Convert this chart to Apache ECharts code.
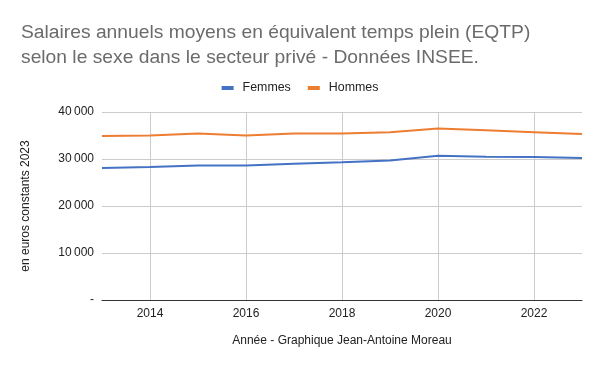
<!DOCTYPE html>
<html><head><meta charset="utf-8">
<script src="https://cdn.jsdelivr.net/npm/echarts@6/dist/echarts.min.js"></script>
<style>html,body{margin:0;padding:0;background:#fff}#c{width:600px;height:371px}</style>
</head><body><div id="c"></div>
<script>
const years = ['2013','2014','2015','2016','2017','2018','2019','2020','2021','2022','2023'];
const femmes = [28100, 28300, 28600, 28600, 29000, 29300, 29700, 30700, 30500, 30400, 30200];
const hommes = [34900, 35000, 35400, 35000, 35400, 35450, 35700, 36500, 36100, 35700, 35300];
const yTicks = [0, 10000, 20000, 30000, 40000];

const chart = echarts.init(document.getElementById('c'), null, {renderer:'canvas'});
const font = '"Liberation Sans", Arial, sans-serif';
chart.setOption({
  animation: false,
  textStyle: {fontFamily: font},
  title: {
    text: 'Salaires annuels moyens en équivalent temps plein (EQTP)\nselon le sexe dans le secteur privé - Données INSEE.',
    left: 16, top: 15,
    textStyle: {fontSize: 19.25, fontWeight: 'normal', color: '#6b6b6b', lineHeight: 25, fontFamily: font}
  },
  legend: {
    data: ['Femmes', 'Hommes'],
    top: 77, left: 'center',
    itemWidth: 12, itemHeight: 4, itemGap: 17,
    icon: 'rect',
    textStyle: {fontSize: 12.4, color: '#222', fontFamily: font, padding: [0, 0, 0, 4]}
  },
  grid: {left: 102, right: 18, top: 112, bottom: 71},
  xAxis: {
    type: 'category', data: years, boundaryGap: false,
    name: 'Année - Graphique Jean-Antoine Moreau', nameLocation: 'middle', nameGap: 35,
    nameTextStyle: {fontSize: 12, color: '#222'},
    axisLine: {lineStyle: {color: '#333', width: 1}},
    axisTick: {show: false},
    axisLabel: {interval: (i) => i % 2 === 1, fontSize: 12, color: '#222', margin: 8},
    splitLine: {show: true, interval: (i) => i % 2 === 1, lineStyle: {color: '#cccccc'}}
  },
  yAxis: {
    type: 'value', min: yTicks[0], max: yTicks[yTicks.length-1], interval: 10000,
    name: 'en euros constants 2023', nameLocation: 'middle', nameGap: 70, nameRotate: 90,
    nameTextStyle: {fontSize: 12, color: '#222'},
    axisLine: {show: false}, axisTick: {show: false},
    axisLabel: {fontSize: 12, color: '#222', margin: 8,
      formatter: v => v === 0 ? '-' : String(v).replace(/\B(?=(\d{3})+(?!\d))/g, '\u202f')},
    splitLine: {lineStyle: {color: '#cccccc'}}
  },
  series: [
    {name: 'Femmes', type: 'line', data: femmes, symbol: 'none', lineStyle: {width: 2, color: '#4472c4'}, itemStyle: {color: '#4472c4'}},
    {name: 'Hommes', type: 'line', data: hommes, symbol: 'none', lineStyle: {width: 2, color: '#ed7d31'}, itemStyle: {color: '#ed7d31'}}
  ]
});
</script></body></html>
